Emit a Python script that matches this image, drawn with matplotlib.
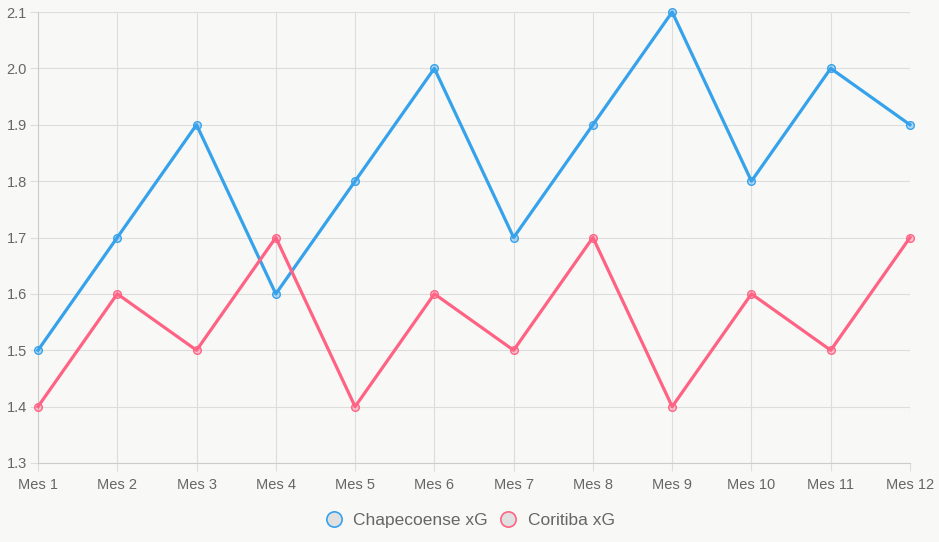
import matplotlib
matplotlib.use("Agg")
import matplotlib.pyplot as plt
from matplotlib.lines import Line2D

months = ["Mes 1", "Mes 2", "Mes 3", "Mes 4", "Mes 5", "Mes 6", "Mes 7", "Mes 8", "Mes 9", "Mes 10", "Mes 11", "Mes 12"]
chapecoense = [1.5, 1.7, 1.9, 1.6, 1.8, 2.0, 1.7, 1.9, 2.1, 1.8, 2.0, 1.9]
coritiba = [1.4, 1.6, 1.5, 1.7, 1.4, 1.6, 1.5, 1.7, 1.4, 1.6, 1.5, 1.7]
yticks = [1.3, 1.4, 1.5, 1.6, 1.7, 1.8, 1.9, 2.0, 2.1]

plt.rcParams['font.family'] = ['Liberation Sans', 'DejaVu Sans']
BG = "#f8f8f6"
BLUE = "#36A2EB"
PINK = "#FF6384"
GRID = "#dddddd"

fig = plt.figure(figsize=(9.39, 5.42), dpi=100, facecolor=BG)
ax = fig.add_axes([38/939, 1-463/542, (910-38)/939, (463-12)/542])
ax.set_facecolor(BG)

x = list(range(len(months)))
ax.plot(x, chapecoense, color=BLUE, lw=2.3, marker='o', ms=5.5,
        mfc=(54/255, 162/255, 235/255, 0.35), mec=BLUE, mew=1.0, zorder=3, clip_on=False)
ax.plot(x, coritiba, color=PINK, lw=2.3, marker='o', ms=5.5,
        mfc=(255/255, 99/255, 132/255, 0.35), mec=PINK, mew=1.0, zorder=3, clip_on=False)

ax.set_xlim(0, len(months)-1)
ax.set_ylim(1.3, 2.1)
ax.set_xticks(x)
ax.set_xticklabels(months)
ax.set_yticks(yticks)
ax.set_yticklabels([f"{v:.1f}" for v in yticks])
ax.grid(True, color=GRID, lw=0.8)
ax.set_axisbelow(True)
for s in ax.spines.values():
    s.set_visible(False)
ax.spines['left'].set_visible(True)
ax.spines['bottom'].set_visible(True)
ax.spines['left'].set_color("#cccccc")
ax.spines['bottom'].set_color("#cccccc")
ax.tick_params(axis='both', colors=GRID, length=6, width=0.8, labelcolor="#666666", labelsize=10.5)
ax.tick_params(axis='x', pad=5)
ax.tick_params(axis='y', pad=2)

handles = [
    Line2D([], [], ls='none', marker='o', ms=11, mfc="#e0e0e0", mec=BLUE, mew=1.2),
    Line2D([], [], ls='none', marker='o', ms=11, mfc="#e0e0e0", mec=PINK, mew=1.2),
]
fig.legend(handles, ["Chapecoense xG", "Coritiba xG"], loc='center', bbox_to_anchor=(469/939, 1-520/542),
           ncol=2, frameon=False, fontsize=12.5, labelcolor="#666666", handletextpad=0.5, columnspacing=0.6,
           handlelength=1.2)

fig.savefig("out.png", dpi=100, facecolor=BG)
